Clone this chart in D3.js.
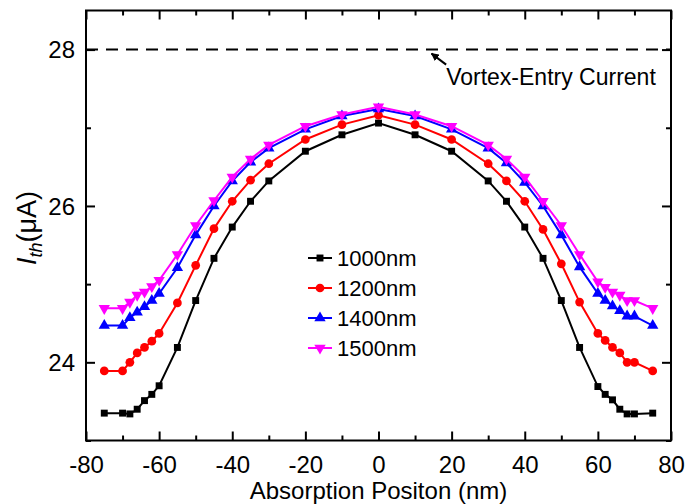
<!DOCTYPE html>
<html>
<head>
<meta charset="utf-8">
<script src="https://cdn.jsdelivr.net/npm/d3@7"></script>
<style>
  html, body { margin: 0; padding: 0; background: #fff; }
  svg { display: block; font-family: "Liberation Sans", Arial, sans-serif; }
</style>
</head>
<body>
<svg id="chart" width="686" height="504"></svg>
<script>
// Absorption positions (nm)
const positions = [-75, -70, -68, -66, -64, -62, -60, -55, -50, -45, -40, -35, -30, -20, -10, 0,
                   10, 20, 30, 35, 40, 45, 50, 55, 60, 62, 64, 66, 68, 70, 75];

// Threshold current I_th (µA) for each strip width
const i1000 = [23.35, 23.35, 23.34, 23.40, 23.51, 23.59, 23.70, 24.19, 24.79, 25.33, 25.73, 26.06, 26.32, 26.70, 26.91, 27.06,
               26.91, 26.70, 26.32, 26.06, 25.73, 25.33, 24.79, 24.19, 23.69, 23.59, 23.52, 23.40, 23.34, 23.34, 23.35];
const i1200 = [23.89, 23.89, 24.00, 24.12, 24.19, 24.27, 24.37, 24.76, 25.24, 25.71, 26.06, 26.33, 26.54, 26.85, 27.04, 27.16,
               27.04, 26.85, 26.54, 26.32, 26.06, 25.70, 25.26, 24.77, 24.37, 24.28, 24.19, 24.12, 24.00, 24.00, 23.89];
const i1400 = [24.47, 24.47, 24.57, 24.64, 24.71, 24.79, 24.88, 25.21, 25.63, 26.00, 26.32, 26.56, 26.74, 26.98, 27.15, 27.24,
               27.15, 26.98, 26.74, 26.55, 26.30, 26.00, 25.63, 25.22, 24.88, 24.79, 24.72, 24.66, 24.59, 24.59, 24.47];
const i1500 = [24.69, 24.69, 24.77, 24.86, 24.90, 24.97, 25.05, 25.38, 25.75, 26.07, 26.37, 26.60, 26.78, 27.02, 27.17, 27.27,
               27.17, 27.02, 26.78, 26.60, 26.37, 26.06, 25.75, 25.38, 25.03, 24.96, 24.90, 24.86, 24.79, 24.79, 24.69];

const seriesNames = ["1000nm", "1200nm", "1400nm", "1500nm"];
const vortexEntry = 28;

const xMajor = [-80, -60, -40, -20, 0, 20, 40, 60, 80];
const xMinor = [-70, -50, -30, -10, 10, 30, 50, 70];
const yMajor = [24, 26, 28];
const yMinor = [23, 25, 27];

const svg = d3.select("#chart");
const pLeft = 86, pRight = 671, pTop = 10.5, pBottom = 440.5;

const x = d3.scaleLinear().domain([-80, 80]).range([pLeft, pRight]);
const y = d3.scaleLinear().domain([23, 28.5]).range([pBottom, pTop]);

const series = [
  { name: seriesNames[0], values: i1000, color: "#000000", symbol: d3.symbolSquare, size: 48, rot: 0 },
  { name: seriesNames[1], values: i1200, color: "#ff0000", symbol: d3.symbolCircle, size: 60, rot: 0 },
  { name: seriesNames[2], values: i1400, color: "#0000ff", symbol: d3.symbolTriangle, size: 56, rot: 0 },
  { name: seriesNames[3], values: i1500, color: "#ff00ff", symbol: d3.symbolTriangle, size: 56, rot: 180 }
];

// Vortex-entry current reference line
svg.append("line")
  .attr("x1", x(-80)).attr("x2", x(80))
  .attr("y1", y(vortexEntry)).attr("y2", y(vortexEntry))
  .attr("stroke", "#000").attr("stroke-width", 2)
  .attr("stroke-dasharray", "12,8");

// Curves and markers
const line = d3.line().x((d, i) => x(positions[i])).y(d => y(d));
series.forEach(s => {
  const g = svg.append("g");
  g.append("path").datum(s.values)
    .attr("d", line)
    .attr("fill", "none")
    .attr("stroke", s.color)
    .attr("stroke-width", 2);
  g.selectAll("path.m").data(s.values).join("path")
    .attr("class", "m")
    .attr("d", d3.symbol().type(s.symbol).size(s.size))
    .attr("transform", (d, i) => `translate(${x(positions[i])},${y(d)}) rotate(${s.rot})`)
    .attr("fill", s.color);
});

// Axes: ticks point inward on all four sides; labels use a plain hyphen minus
function tickAxis(axisFn, scale, vals, len, translate, labels) {
  const a = axisFn(scale).tickValues(vals).tickSizeInner(len).tickSizeOuter(0);
  a.tickFormat(labels ? (d => String(d)) : "");
  const g = svg.append("g").attr("transform", translate).call(a);
  g.select(".domain").remove();
  g.selectAll(".tick line").attr("stroke", "#000").attr("stroke-width", 2);
  return g;
}
// bottom
const gxB = tickAxis(d3.axisTop, x, xMajor, 9, `translate(0,${pBottom})`, true);
gxB.selectAll(".tick text").attr("y", 32).attr("dy", 0)
  .attr("font-size", 24).attr("fill", "#000");
tickAxis(d3.axisTop, x, xMinor, 5, `translate(0,${pBottom})`, false);
// top
tickAxis(d3.axisBottom, x, xMajor, 9, `translate(0,${pTop})`, false);
tickAxis(d3.axisBottom, x, xMinor, 5, `translate(0,${pTop})`, false);
// left
const gyL = tickAxis(d3.axisRight, y, yMajor, 9, `translate(${pLeft},0)`, true);
gyL.selectAll(".tick text").attr("x", -11).attr("dy", "0.35em")
  .attr("text-anchor", "end").attr("font-size", 24).attr("fill", "#000");
tickAxis(d3.axisRight, y, yMinor, 5, `translate(${pLeft},0)`, false);
// right
tickAxis(d3.axisLeft, y, yMajor, 9, `translate(${pRight},0)`, false);
tickAxis(d3.axisLeft, y, yMinor, 5, `translate(${pRight},0)`, false);

// Frame
svg.append("rect")
  .attr("x", pLeft).attr("y", pTop)
  .attr("width", pRight - pLeft).attr("height", pBottom - pTop)
  .attr("fill", "none").attr("stroke", "#000").attr("stroke-width", 2);

// Annotation for the vortex-entry current
const defs = svg.append("defs");
defs.append("marker").attr("id", "ah")
  .attr("viewBox", "0 0 10 10").attr("refX", 9).attr("refY", 5)
  .attr("markerWidth", 4).attr("markerHeight", 4).attr("orient", "auto")
  .append("path").attr("d", "M0,0 L10,5 L0,10 Z").attr("fill", "#000");
svg.append("line")
  .attr("x1", x(18.5)).attr("y1", y(vortexEntry) + 15)
  .attr("x2", x(14.5)).attr("y2", y(vortexEntry) + 4)
  .attr("stroke", "#000").attr("stroke-width", 2)
  .attr("marker-end", "url(#ah)");
svg.append("text")
  .attr("x", x(18.5)).attr("y", y(vortexEntry) + 35)
  .attr("font-size", 23).attr("fill", "#000")
  .text("Vortex-Entry Current");

// Legend
const lg = svg.append("g").attr("transform", "translate(308,258)");
series.forEach((s, i) => {
  const row = lg.append("g").attr("transform", `translate(0,${i * 30})`);
  row.append("line").attr("x1", 0).attr("x2", 24).attr("y1", 0).attr("y2", 0)
    .attr("stroke", s.color).attr("stroke-width", 2);
  row.append("path")
    .attr("d", d3.symbol().type(s.symbol).size(s.size))
    .attr("transform", `translate(12,0) rotate(${s.rot})`)
    .attr("fill", s.color);
  row.append("text").attr("x", 29).attr("y", 0).attr("dy", "0.35em")
    .attr("font-size", 22).attr("fill", "#000").text(s.name);
});

// Axis titles
svg.append("text")
  .attr("x", (pLeft + pRight) / 2).attr("y", 499)
  .attr("text-anchor", "middle").attr("font-size", 24).attr("fill", "#000")
  .text("Absorption Positon (nm)");

const yt = svg.append("text")
  .attr("transform", `translate(36,228) rotate(-90)`)
  .attr("text-anchor", "middle").attr("font-size", 27).attr("fill", "#000");
yt.append("tspan").attr("font-style", "italic").text("I");
yt.append("tspan").attr("font-style", "italic").attr("font-size", 18).attr("dy", 6).text("th");
yt.append("tspan").attr("dy", -6).text("(μA)");
</script>
</body>
</html>
